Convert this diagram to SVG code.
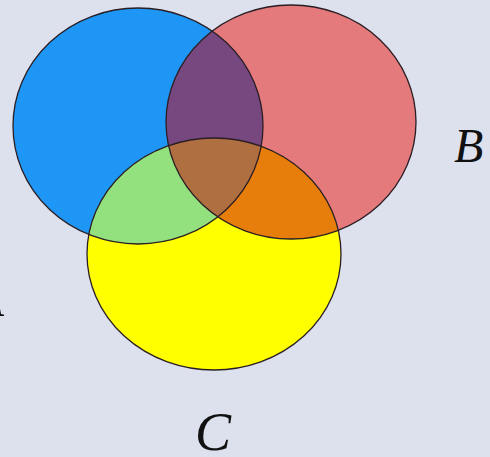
<svg xmlns="http://www.w3.org/2000/svg" width="490" height="457" viewBox="0 0 490 457">
<style>
.lbl{font-family:"Liberation Serif","Times New Roman",serif;font-style:italic;fill:#111;}
.edge{fill:none;stroke:#2a1e24;stroke-width:1.3;}
</style>
<defs>
<ellipse id="eA" cx="138" cy="126" rx="125" ry="118"/>
<ellipse id="eB" cx="291" cy="122" rx="125" ry="117"/>
<ellipse id="eC" cx="214" cy="254" rx="127" ry="116"/>
<clipPath id="cA"><use href="#eA"/></clipPath>
<clipPath id="cB"><use href="#eB"/></clipPath>
<clipPath id="cC"><use href="#eC"/></clipPath>
</defs>
<rect width="490" height="457" fill="#dde1ee"/>
<g id="A"><use href="#eA" fill="#1e96f5"/></g>
<g id="B"><use href="#eB" fill="#e47a7c"/></g>
<g id="C"><use href="#eC" fill="#ffff00"/></g>
<g id="AB" clip-path="url(#cA)"><use href="#eB" fill="#774780"/></g>
<g id="AC" clip-path="url(#cA)"><use href="#eC" fill="#93e17e"/></g>
<g id="BC" clip-path="url(#cB)"><use href="#eC" fill="#e77e0b"/></g>
<g id="ABC" clip-path="url(#cA)"><g clip-path="url(#cB)"><use href="#eC" fill="#b06f40"/></g></g>
<g id="outlines">
<use href="#eA" class="edge"/>
<use href="#eB" class="edge"/>
<use href="#eC" class="edge"/>
</g>
<g id="labels">
<text class="lbl" x="4" y="316" font-size="52" text-anchor="end">A</text>
<text class="lbl" x="454" y="162" font-size="48">B</text>
<text class="lbl" x="195" y="450" font-size="54">C</text>
</g>
</svg>
